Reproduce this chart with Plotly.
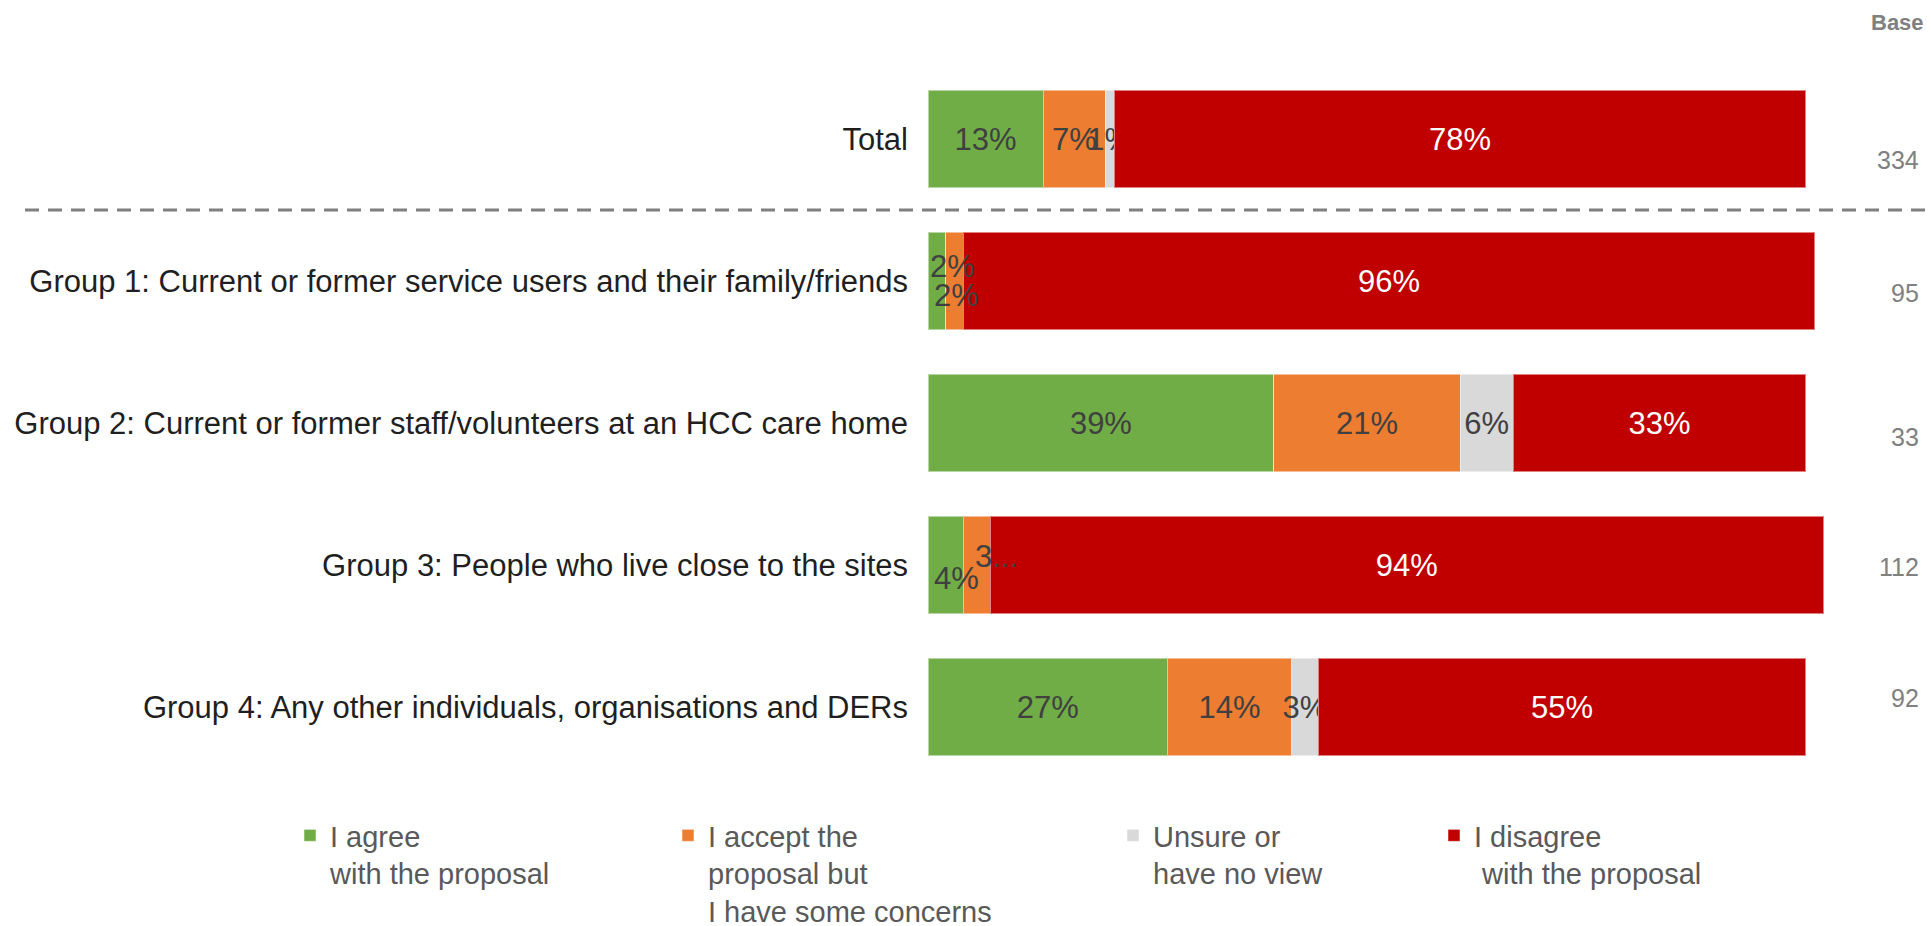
import plotly.graph_objects as go

categories = [
    "Total",
    "Group 1: Current or former service users and their family/friends",
    "Group 2: Current or former staff/volunteers at an HCC care home",
    "Group 3: People who live close to the sites",
    "Group 4: Any other individuals, organisations and DERs",
]
agree = [13, 2, 39, 4, 27]
accept = [7, 2, 21, 3, 14]
unsure = [1, 0, 6, 0, 3]
disagree = [78, 96, 33, 94, 55]
base = [334, 95, 33, 112, 92]

series_names = [
    "I agree<br>with the proposal",
    "I accept the<br>proposal but<br>I have some concerns",
    "Unsure or<br>have no view",
    "I disagree<br> with the proposal",
]
colors = ["#70AD47", "#ED7D31", "#D9D9D9", "#C00000"]
text_colors = ["#404040", "#404040", "#404040", "#FFFFFF"]
series = [agree, accept, unsure, disagree]

# labels that are drawn offset (small segments), by (series index, category index)
offset_labels = {
    (0, 1): dict(text="2%", xshift=16, yshift=15),
    (1, 1): dict(text="2%", xshift=2, yshift=-14),
    (0, 3): dict(text="4%", xshift=11, yshift=-13),
    (1, 3): dict(text="3...", xshift=20, yshift=9),
}

W, H = 1931, 926
FONT = "Liberation Sans, Arial, sans-serif"

legend_x = [290, 668, 1113, 1434]
legend_top = 810

left = 928
plot_w = 900
top = 68
bottom = 778
plot_h = bottom - top

fig = go.Figure()
for i, (vals, name, col, tcol) in enumerate(zip(series, series_names, colors, text_colors)):
    texts = []
    for j, v in enumerate(vals):
        if v <= 0 or (i, j) in offset_labels:
            texts.append("")
        else:
            texts.append(f"{v}%")
    fig.add_trace(go.Bar(
        y=categories, x=vals, orientation="h", name=name,
        marker=dict(color=col, line=dict(color="rgba(255,255,255,0.5)", width=1)),
        text=texts, textposition="inside", insidetextanchor="middle",
        constraintext="none", textangle=0,
        insidetextfont=dict(family=FONT, size=31, color=tcol),
        hoverinfo="skip",
        legend="legend" if i == 0 else f"legend{i+1}",
    ))

annotations = []
for (i, j), spec in offset_labels.items():
    start = sum(series[k][j] for k in range(i))
    center = start + series[i][j] / 2
    annotations.append(dict(
        x=center, y=categories[j], xref="x", yref="y", text=spec["text"],
        showarrow=False, xshift=spec["xshift"], yshift=spec["yshift"],
        font=dict(family=FONT, size=31, color=text_colors[i]),
    ))

# base column
base_right = 1921
base_shift = [-21, -12, -14, -2, 9]
for j, b in enumerate(base):
    annotations.append(dict(
        x=(base_right - left) / plot_w, y=categories[j],
        xref="paper", yref="y", text=str(b),
        showarrow=False, xanchor="right", yshift=base_shift[j],
        font=dict(family=FONT, size=25, color="#808080"),
    ))
annotations.append(dict(
    x=(1926 - left) / plot_w, y=(bottom - 22) / plot_h,
    xref="paper", yref="paper", text="<b>Base</b>",
    showarrow=False, xanchor="right", yanchor="middle",
    font=dict(family=FONT, size=22, color="#808080"),
))

layout_legends = {}
for i, px in enumerate(legend_x):
    key = "legend" if i == 0 else f"legend{i+1}"
    layout_legends[key] = dict(
        x=px / W, xref="container", xanchor="left",
        y=1 - legend_top / H, yref="container", yanchor="top",
        orientation="v", valign="top", bgcolor="rgba(0,0,0,0)",
        font=dict(family=FONT, size=29, color="#595959"),
        itemclick=False, itemdoubleclick=False,
    )

fig.update_layout(
    width=W, height=H,
    barmode="stack", bargap=0.31,
    margin=dict(l=left, r=W - left - plot_w, t=top, b=H - bottom, autoexpand=False),
    paper_bgcolor="white", plot_bgcolor="white",
    xaxis=dict(range=[0, 101.5], visible=False, fixedrange=True),
    yaxis=dict(
        autorange="reversed", showgrid=False, zeroline=False, showline=False,
        ticks="", ticklabelstandoff=19,
        tickfont=dict(family=FONT, size=31, color="#1f1f1f"),
        fixedrange=True,
    ),
    annotations=annotations,
    shapes=[dict(
        type="line", xref="paper", yref="y",
        x0=(25 - left) / plot_w, x1=(W - left) / plot_w, y0=0.5, y1=0.5,
        line=dict(color="#7F7F7F", width=3, dash="14px,9px"),
    )],
    showlegend=True,
    **layout_legends,
)

fig.write_html(
    "out.html",
    config={"displayModeBar": False},
    post_script="document.body.style.margin='0';document.body.style.overflow='hidden';",
)
